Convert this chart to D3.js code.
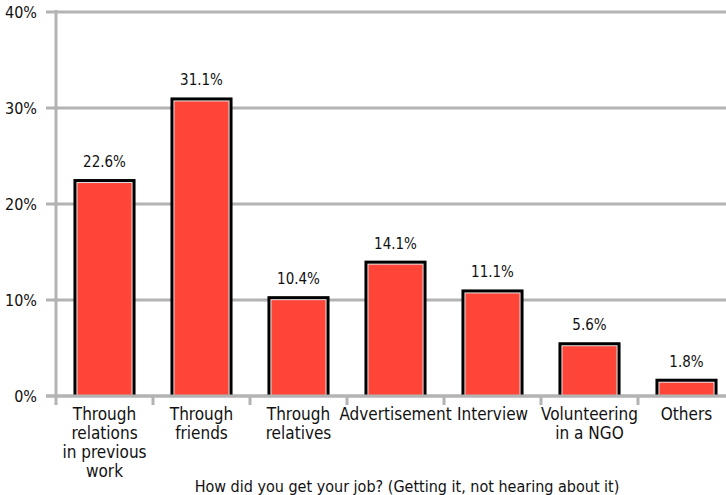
<!DOCTYPE html>
<html>
<head>
<meta charset="utf-8">
<script src="https://cdn.jsdelivr.net/npm/d3@7"></script>
<style>
  html, body { margin: 0; padding: 0; background: #fff; }
  svg { display: block; font-family: "Liberation Sans Narrow", "Arial Narrow", "DejaVu Sans Condensed", Roboto, sans-serif; }
</style>
</head>
<body>
<svg id="chart" width="726" height="495"></svg>
<script>
// Survey answers: how respondents got their current job
const categories = [
  ["Through", "relations", "in previous", "work"],
  ["Through", "friends"],
  ["Through", "relatives"],
  ["Advertisement"],
  ["Interview"],
  ["Volunteering", "in a NGO"],
  ["Others"]
];
const shares = [22.6, 31.1, 10.4, 14.1, 11.1, 5.6, 1.8];
const yTicks = [0, 10, 20, 30, 40];
const axisTitle = "How did you get your job? (Getting it, not hearing about it)";

const svg = d3.select("#chart");
const plotLeft = 56, plotRight = 735, plotTop = 12, plotBottom = 396;

const keys = categories.map((c, i) => i);
const x = d3.scaleBand().domain(keys).range([plotLeft, plotRight]).paddingInner(0.36).paddingOuter(0.18);
const xEdges = d3.scaleBand().domain(keys).range([plotLeft, plotRight]).padding(0);
const y = d3.scaleLinear().domain([0, 40]).range([plotBottom, plotTop]);

const gridColor = "#b3b3b3";

// horizontal gridlines with short tick stubs on the left
svg.append("g").selectAll("line").data(yTicks).join("line")
  .attr("x1", plotLeft - 10).attr("x2", 726)
  .attr("y1", d => y(d)).attr("y2", d => y(d))
  .attr("stroke", gridColor).attr("stroke-width", 3);

// y tick labels
svg.append("g").selectAll("text").data(yTicks).join("text")
  .attr("x", 37).attr("y", d => y(d) + 6)
  .attr("text-anchor", "end")
  .attr("font-size", 16).attr("fill", "#111")
  .text(d => d + "%");

// vertical axis line
svg.append("line")
  .attr("x1", plotLeft).attr("x2", plotLeft).attr("y1", plotTop - 2).attr("y2", plotBottom + 9)
  .attr("stroke", gridColor).attr("stroke-width", 3);

// category boundary ticks below the baseline
svg.append("g").selectAll("line").data(keys.slice(1)).join("line")
  .attr("x1", d => xEdges(d)).attr("x2", d => xEdges(d))
  .attr("y1", plotBottom).attr("y2", plotBottom + 9)
  .attr("stroke", gridColor).attr("stroke-width", 3);

// bars: black frame, thin light inner line, red fill
const bars = svg.append("g").selectAll("g").data(shares).join("g");
bars.append("rect")
  .attr("x", (d, i) => x(i)).attr("width", x.bandwidth())
  .attr("y", d => y(d)).attr("height", d => plotBottom - y(d))
  .attr("fill", "#000");
bars.append("rect")
  .attr("x", (d, i) => x(i) + 3).attr("width", x.bandwidth() - 6)
  .attr("y", d => y(d) + 3).attr("height", d => Math.max(0, plotBottom - y(d) - 3))
  .attr("fill", "#e6e6e6");
bars.append("rect")
  .attr("x", (d, i) => x(i) + 4).attr("width", x.bandwidth() - 8)
  .attr("y", d => y(d) + 4).attr("height", d => Math.max(0, plotBottom - y(d) - 4))
  .attr("fill", "#ff4438");

// redraw the baseline over the bar bottoms
svg.append("line")
  .attr("x1", plotLeft - 10).attr("x2", 726).attr("y1", plotBottom).attr("y2", plotBottom)
  .attr("stroke", gridColor).attr("stroke-width", 3);

// value labels
svg.append("g").selectAll("text").data(shares).join("text")
  .attr("x", (d, i) => x(i) + x.bandwidth() / 2)
  .attr("y", d => y(d) - 12)
  .attr("text-anchor", "middle")
  .attr("font-size", 15).attr("fill", "#111")
  .text(d => d.toFixed(1) + "%");

// category labels
const cat = svg.append("g").selectAll("text").data(categories).join("text")
  .attr("text-anchor", "middle")
  .attr("font-size", 17).attr("fill", "#111");
cat.selectAll("tspan").data((d, i) => d.map(line => ({ line, i }))).join("tspan")
  .attr("x", d => x(d.i) + x.bandwidth() / 2)
  .attr("y", (d, j) => 420 + j * 19)
  .text(d => d.line);

// axis title
svg.append("text")
  .attr("x", 407).attr("y", 492)
  .attr("text-anchor", "middle")
  .attr("font-size", 16).attr("fill", "#111")
  .text(axisTitle);
</script>
</body>
</html>
